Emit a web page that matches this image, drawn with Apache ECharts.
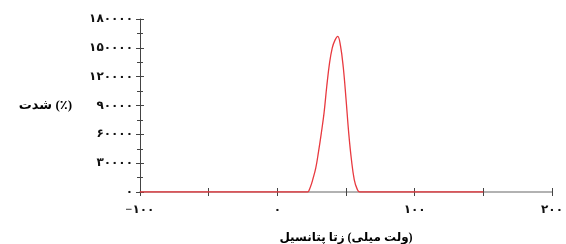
<!DOCTYPE html>
<html>
<head>
<meta charset="utf-8">
<script src="https://cdn.jsdelivr.net/npm/echarts@6/dist/echarts.min.js"></script>
<style>
html, body { margin: 0; padding: 0; background: #fff; }
#chart { width: 566px; height: 244px; }
</style>
</head>
<body>
<div id="chart"></div>
<script>
// پتانسیل زتا (mV) و شدت
const zetaValues = [-100, 20, 22, 24, 26, 28, 30, 32, 34, 36, 38, 40, 42, 44, 46, 48, 50, 52, 54, 56, 58, 60, 150]
const intensityValues = [0, 0, 0, 5000, 14000, 25000, 42000, 61000, 82000, 110000, 134000, 150000, 158000, 162000, 152000, 130000, 97000, 61000, 33000, 13000, 3500, 0, 0]
const xLabelValues = [-100, 0, 100, 200]

const faDigits = '۰۱۲۳۴۵۶۷۸۹'
const toFa = n => {
    let s = String(Math.abs(n)).replace(/\d/g, d => faDigits[d])
    return n < 0 ? '\u2212' + s : s
}

const chart = echarts.init(document.getElementById('chart'))
const font = '"Times New Roman", "Liberation Serif", "DejaVu Sans", serif'
const nameStyle = { color: '#000', fontSize: 12, fontWeight: 'bold', fontFamily: font }
const labelStyle = { color: '#111', fontSize: 12, fontWeight: 'bold', fontFamily: font }

const xBase = { type: 'value', min: -100, max: 200, interval: 50, splitLine: { show: false } }
const yBase = { type: 'value', min: 0, max: 180000, interval: 30000, splitLine: { show: false } }

chart.setOption({
    animation: false,
    grid: { left: 140, right: 14, top: 19, bottom: 52, outerBoundsMode: 'none', containLabel: false },
    xAxis: [
        Object.assign({}, xBase, {
            // each word drawn separately so the words stay left-to-right like the original figure
            name: '{w|پتانسیل} {w|زتا} {w|(میلی} {w|ولت)}',
            nameLocation: 'middle',
            nameGap: 40,
            nameTextStyle: Object.assign({ rich: { w: nameStyle } }, nameStyle),
            axisLine: { onZero: false, lineStyle: { color: '#999', width: 1.5 } },
            axisTick: { show: true, length: 4, lineStyle: { color: '#444' } },
            axisLabel: Object.assign({}, labelStyle, {
                margin: 12,
                formatter: v => xLabelValues.includes(v) ? toFa(v) : ''
            })
        }),
        // ticks on the inner side, so they cross the axis
        Object.assign({}, xBase, {
            position: 'bottom',
            axisLine: { show: false, onZero: false },
            axisTick: { show: true, inside: true, length: 4, lineStyle: { color: '#444' } },
            axisLabel: { show: false }
        })
    ],
    yAxis: [
        Object.assign({}, yBase, {
            name: 'شدت (٪)',
            nameLocation: 'middle',
            nameRotate: 0,
            nameGap: 68,
            nameTextStyle: Object.assign({}, nameStyle, { fontSize: 13 }),
            axisLine: { show: true, onZero: false, lineStyle: { color: '#444', width: 1 } },
            axisTick: { show: true, length: 4, lineStyle: { color: '#444' } },
            minorTick: { show: true, splitNumber: 2, length: 3, lineStyle: { color: '#444' } },
            axisLabel: Object.assign({}, labelStyle, { margin: 7, formatter: v => toFa(v) })
        }),
        Object.assign({}, yBase, {
            position: 'left',
            axisLine: { show: false, onZero: false },
            axisTick: { show: true, inside: true, length: 4, lineStyle: { color: '#444' } },
            minorTick: { show: true, splitNumber: 2, length: 3, lineStyle: { color: '#444' } },
            axisLabel: { show: false }
        })
    ],
    series: [{
        type: 'line',
        data: zetaValues.map((x, i) => [x, intensityValues[i]]),
        smooth: 0.4,
        showSymbol: false,
        lineStyle: { color: '#e8393f', width: 1.3 }
    }]
})
</script>
</body>
</html>
